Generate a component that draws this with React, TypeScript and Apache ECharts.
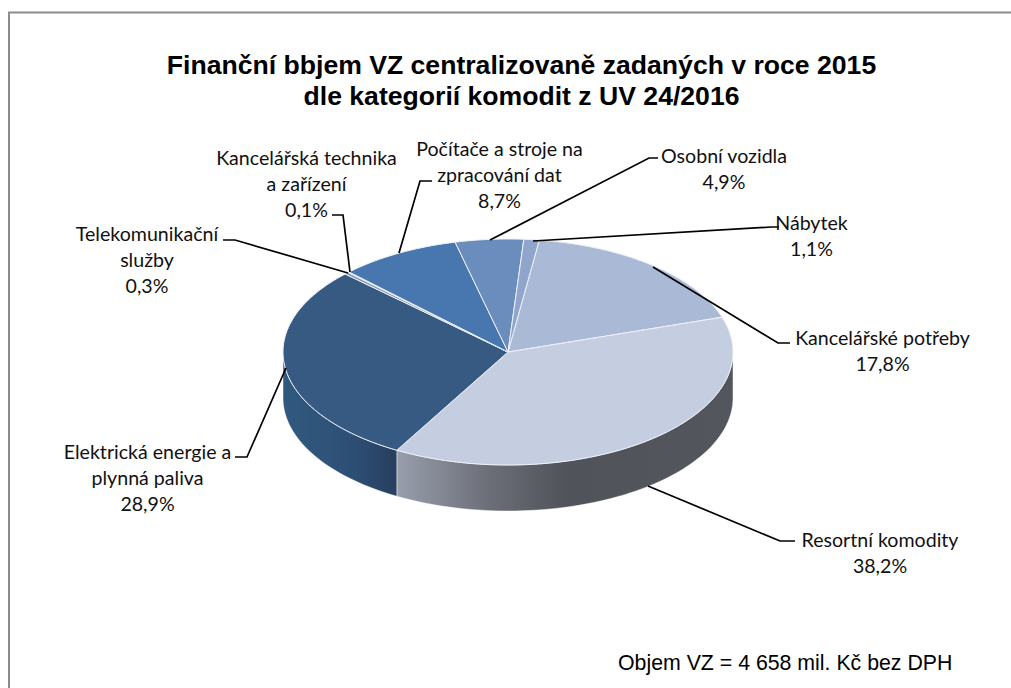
import React, { useEffect, useRef } from "react";
import * as echarts from "echarts";

const categories = [
  "Kancelářské potřeby",
  "Resortní komodity",
  "Elektrická energie a plynná paliva",
  "Telekomunikační služby",
  "Kancelářská technika a zařízení",
  "Počítače a stroje na zpracování dat",
  "Osobní vozidla",
  "Nábytek",
];
const shares = [17.8, 38.2, 28.9, 0.3, 0.1, 8.7, 4.9, 1.1];
const shareLabels = ["17,8%", "38,2%", "28,9%", "0,3%", "0,1%", "8,7%", "4,9%", "1,1%"];
const titleLines = [
  "Finanční bbjem VZ centralizovaně zadaných v roce 2015",
  "dle kategorií komodit z UV 24/2016",
];
const footnote = "Objem VZ = 4 658 mil. Kč bez DPH";

// Layout and styling (not data)
const CX = 508, CY = 352, RX = 225, RY = 113, DEPTH = 46, START_DEG = 8;
const topColors = ["#AAB9D5", "#C5CEE1", "#375A82", "#7F93B2", "#5F83B5", "#4877B0", "#6A8DBE", "#8FA5CC"];
const wallStops: Record<number, [number, string][]> = {
  1: [[0, "#989EAC"], [0.27, "#6C6F78"], [0.5, "#505359"], [1, "#53565D"]],
  2: [[0, "#31597F"], [0.6, "#2E4F75"], [1, "#283F5E"]],
};
const labelLines: { x: number; y: number; lines: string[] }[] = [
  { x: 882.5, y: 337, lines: ["Kancelářské potřeby", "17,8%"] },
  { x: 880, y: 539, lines: ["Resortní komodity", "38,2%"] },
  { x: 147.5, y: 451, lines: ["Elektrická energie a", "plynná paliva", "28,9%"] },
  { x: 147, y: 233, lines: ["Telekomunikační", "služby", "0,3%"] },
  { x: 306.5, y: 157, lines: ["Kancelářská technika", "a zařízení", "0,1%"] },
  { x: 499.5, y: 148, lines: ["Počítače a stroje na", "zpracování dat", "8,7%"] },
  { x: 724, y: 155, lines: ["Osobní vozidla", "4,9%"] },
  { x: 811.5, y: 222, lines: ["Nábytek", "1,1%"] },
];
const leaders: number[][][] = [
  [[653, 267], [778, 343], [790, 343]],
  [[648, 486], [780, 541], [795, 541]],
  [[286, 368], [247, 457], [235, 457]],
  [[348, 273], [235, 240], [223, 240]],
  [[350, 272], [343, 215], [332, 215]],
  [[399, 253], [420, 181], [432, 181]],
  [[490, 240], [649, 158], [658, 158]],
  [[533, 241], [771, 227], [779, 227]],
];

const pt = (deg: number, dy = 0): number[] => {
  const a = (deg * Math.PI) / 180;
  return [CX + RX * Math.sin(a), CY - RY * Math.cos(a) + dy];
};
const arcPts = (from: number, to: number, dy = 0): number[][] => {
  const n = Math.max(2, Math.ceil((to - from) / 1.5));
  const out: number[][] = [];
  for (let i = 0; i <= n; i++) out.push(pt(from + ((to - from) * i) / n, dy));
  return out;
};

export default function App() {
  const ref = useRef<HTMLDivElement>(null);
  useEffect(() => {
    const chart = echarts.init(ref.current!, undefined, { renderer: "svg" });
    const total = shares.reduce((s, v) => s + v, 0);
    const starts: number[] = [];
    shares.reduce((acc, v, i) => {
      starts[i] = acc;
      return acc + (v / total) * 360;
    }, START_DEG);

    const renderItem = (params: any, api: any) => {
      const i = params.dataIndex;
      const from = starts[i];
      const to = from + (api.value(0) / total) * 360;
      const children: any[] = [];
      const wFrom = Math.max(from, 90);
      const wTo = Math.min(to, 270);
      if (wTo > wFrom) {
        const x0 = pt(wFrom)[0];
        const x1 = pt(wTo)[0];
        const stops = wallStops[i] || [[0, topColors[i]], [1, topColors[i]]];
        const isLeftToRight = x0 > x1;
        children.push({
          type: "polygon",
          z2: 1,
          shape: {
            points: [...arcPts(wFrom, wTo), ...arcPts(wFrom, wTo, DEPTH).reverse()],
          },
          style: {
            fill: new echarts.graphic.LinearGradient(
              isLeftToRight ? x1 : x0, 0, isLeftToRight ? x0 : x1, 0,
              stops.map(([offset, color]) => ({ offset, color })),
              true
            ),
            stroke: "rgba(255,255,255,0.75)",
            lineWidth: 0.6,
          },
        });
      }
      children.push({
        type: "polygon",
        z2: 2,
        shape: { points: [[CX, CY], ...arcPts(from, to)] },
        style: { fill: topColors[i], stroke: "#EEF1F7", lineWidth: 1, lineJoin: "round" },
      });
      return { type: "group", children };
    };

    const graphics: any[] = [
      {
        type: "polyline",
        z: 1,
        shape: { points: [[9, 688], [9, 12.5], [1011, 12.5]] },
        style: { fill: "none", stroke: "#8C8C8C", lineWidth: 2 },
      },
    ];
    leaders.forEach((points) =>
      graphics.push({
        type: "polyline",
        z: 10,
        shape: { points },
        style: { fill: "none", stroke: "#000", lineWidth: 1.7 },
      })
    );
    labelLines.forEach((l) =>
      l.lines.forEach((line, k) =>
        graphics.push({
          type: "text",
          z: 11,
          x: l.x,
          y: l.y + k * 26.4,
          style: {
            text: line,
            fill: "#111",
            font: '19.6px Lato, "Open Sans", sans-serif',
            textAlign: "center",
            textVerticalAlign: "middle",
          },
        })
      )
    );
    titleLines.forEach((line, k) =>
      graphics.push({
        type: "text",
        z: 11,
        x: 521.5,
        y: 65 + k * 31,
        style: {
          text: line,
          fill: "#000",
          font: 'bold 26.6px "Liberation Sans", Arial, sans-serif',
          textAlign: "center",
          textVerticalAlign: "middle",
        },
      })
    );
    graphics.push({
      type: "text",
      z: 11,
      x: 618,
      y: 663,
      style: {
        text: footnote,
        fill: "#000",
        font: '21.3px "Liberation Sans", Arial, sans-serif',
        textAlign: "left",
        textVerticalAlign: "middle",
      },
    });

    chart.setOption({
      animation: false,
      backgroundColor: "#fff",
      series: [
        {
          type: "custom",
          coordinateSystem: "none",
          renderItem,
          silent: true,
          data: shares.map((v, i) => ({ name: categories[i], value: [v], label: shareLabels[i] })),
        },
      ],
      graphic: { elements: graphics },
    });
    return () => chart.dispose();
  }, []);
  return <div ref={ref} style={{ position: "absolute", left: 0, top: 0, width: 1011, height: 688 }} />;
}
